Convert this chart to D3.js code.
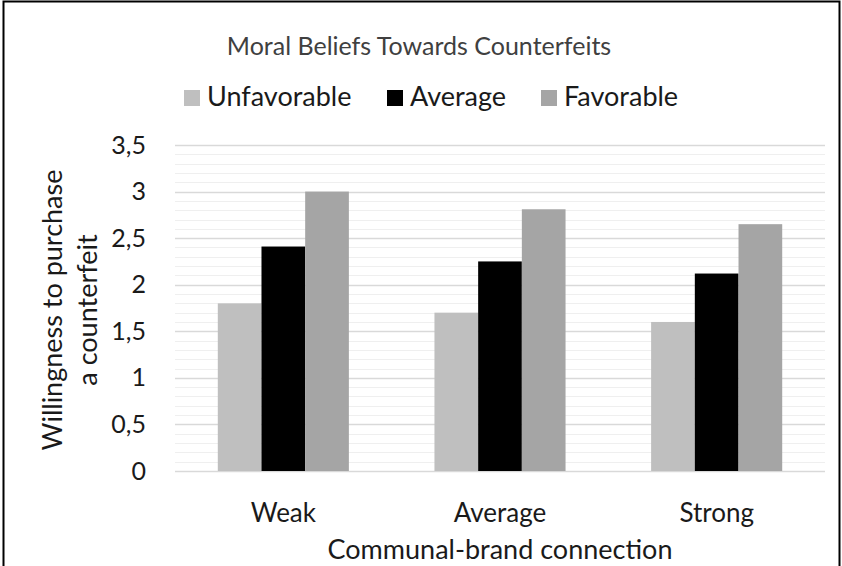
<!DOCTYPE html>
<html>
<head>
<meta charset="utf-8">
<script src="https://cdn.jsdelivr.net/npm/d3@7"></script>
<style>
  body { margin: 0; background: #fff; }
  text { font-family: Lato, "Open Sans", sans-serif; }
</style>
</head>
<body>
<div id="chart"></div>
<script>
// data
var categories = ["Weak", "Average", "Strong"];
var seriesNames = ["Unfavorable", "Average", "Favorable"];
var unfavorable = [1.80, 1.70, 1.60];
var average = [2.41, 2.25, 2.12];
var favorable = [3.00, 2.81, 2.65];
var yTicks = [0, 0.5, 1, 1.5, 2, 2.5, 3, 3.5];

var seriesValues = [unfavorable, average, favorable];
var colors = ["#bfbfbf", "#000000", "#a5a5a5"];

// svg container
var svgWidth = 842;
var svgHeight = 566;

var plot = { left: 175, right: 825, top: 145, bottom: 471 };

var svg = d3.select("#chart").append("svg")
    .attr("width", svgWidth)
    .attr("height", svgHeight);

// outer frame
svg.append("rect")
    .attr("x", 3.5).attr("y", 1.5)
    .attr("width", 836).attr("height", 600)
    .attr("fill", "none")
    .attr("stroke", "#000")
    .attr("stroke-width", 2);

// scales
var yScale = d3.scaleLinear()
    .domain([0, 3.5])
    .range([plot.bottom, plot.top]);

var x0 = d3.scaleBand()
    .domain(categories)
    .range([plot.left, plot.right])
    .paddingInner(0.395)
    .paddingOuter(0.1975);

var x1 = d3.scaleBand()
    .domain(seriesNames)
    .range([0, x0.bandwidth()]);

// minor grid
var minor = d3.range(0, 36).map(d => d / 10);
svg.append("g").selectAll("line").data(minor).enter()
    .append("line")
    .attr("x1", plot.left).attr("x2", plot.right)
    .attr("y1", d => Math.round(yScale(d)) + 0.5)
    .attr("y2", d => Math.round(yScale(d)) + 0.5)
    .attr("stroke", "#efefef")
    .attr("stroke-width", 1);

// major grid
svg.append("g").selectAll("line").data(yTicks).enter()
    .append("line")
    .attr("x1", plot.left).attr("x2", plot.right)
    .attr("y1", d => Math.round(yScale(d)) + 0.5)
    .attr("y2", d => Math.round(yScale(d)) + 0.5)
    .attr("stroke", "#d9d9d9")
    .attr("stroke-width", 1.5);

// bars
var groups = svg.append("g").selectAll("g").data(categories).enter()
    .append("g")
    .attr("transform", d => `translate(${x0(d)},0)`);

groups.selectAll("rect")
    .data((c, i) => seriesNames.map((s, j) => ({ s: s, v: seriesValues[j][i], c: colors[j] })))
    .enter()
    .append("rect")
    .attr("x", d => x1(d.s))
    .attr("width", x1.bandwidth())
    .attr("y", d => yScale(d.v))
    .attr("height", d => yScale(0) - yScale(d.v))
    .attr("fill", d => d.c);

// y axis
var yAxis = d3.axisLeft(yScale)
    .tickValues(yTicks)
    .tickSize(0)
    .tickPadding(29)
    .tickFormat(d => String(d).replace(".", ","));

var yg = svg.append("g")
    .attr("transform", `translate(${plot.left},0)`)
    .call(yAxis);
yg.select(".domain").remove();
yg.selectAll("text")
    .attr("font-size", "25px")
    .attr("font-family", "Lato")
    .attr("fill", "#1a1a1a");

// x axis
var xAxis = d3.axisBottom(x0).tickSize(0).tickPadding(32);
var xg = svg.append("g")
    .attr("transform", `translate(0,${plot.bottom})`)
    .call(xAxis);
xg.select(".domain").remove();
xg.selectAll("text")
    .attr("dy", null)
    .attr("y", 51)
    .attr("font-size", "26px")
    .attr("font-family", "Lato")
    .attr("fill", "#1a1a1a");

// title
svg.append("text")
    .attr("x", 419).attr("y", 55)
    .attr("text-anchor", "middle")
    .attr("font-size", "25px")
    .attr("fill", "#404040")
    .text("Moral Beliefs Towards Counterfeits");

// legend
var legendX = [184, 387, 541];
var legend = svg.append("g").selectAll("g").data(seriesNames).enter()
    .append("g")
    .attr("transform", (d, i) => `translate(${legendX[i]},0)`);
legend.append("rect")
    .attr("x", 0).attr("y", 90)
    .attr("width", 16).attr("height", 16)
    .attr("fill", (d, i) => colors[i]);
legend.append("text")
    .attr("x", 23).attr("y", 106)
    .attr("font-size", "27px")
    .attr("fill", "#1a1a1a")
    .text(d => d);

// axis titles
svg.append("text")
    .attr("x", 500).attr("y", 559)
    .attr("text-anchor", "middle")
    .attr("font-size", "27px")
    .attr("fill", "#1a1a1a")
    .text("Communal-brand connection");

var yTitle = svg.append("text")
    .attr("transform", "translate(0,310) rotate(-90)")
    .attr("text-anchor", "middle")
    .attr("font-size", "27px")
    .attr("fill", "#1a1a1a");
yTitle.append("tspan").attr("x", 0).attr("y", 62).text("Willingness to purchase");
yTitle.append("tspan").attr("x", 0).attr("y", 97).text("a counterfeit");
</script>
</body>
</html>
